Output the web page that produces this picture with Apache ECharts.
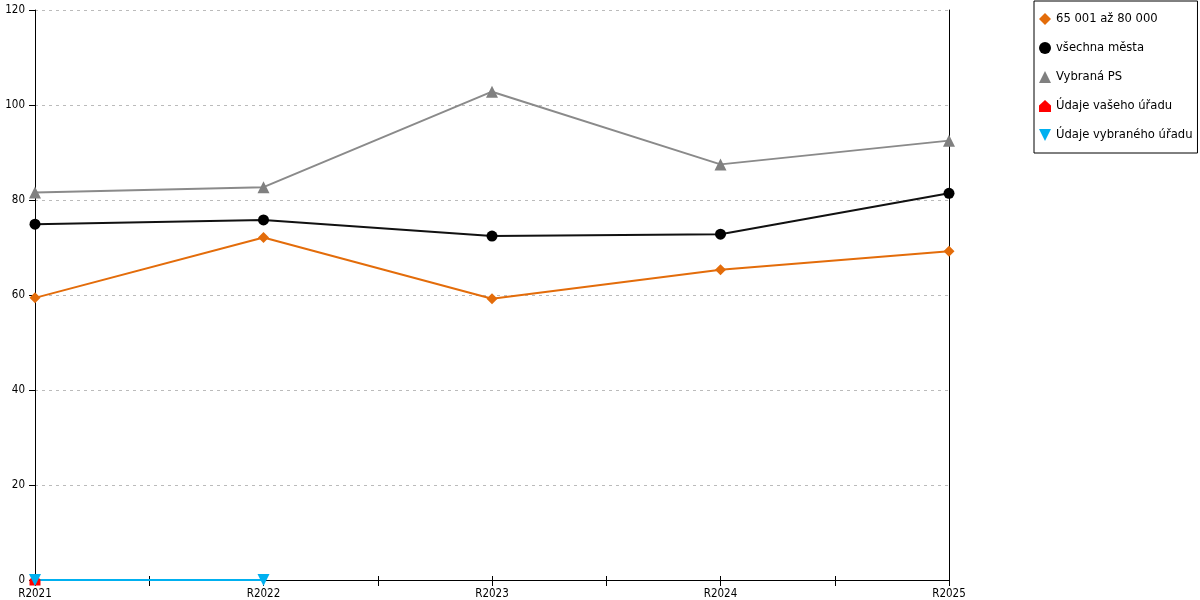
<!DOCTYPE html>
<html>
<head>
<meta charset="utf-8">
<script src="https://cdn.jsdelivr.net/npm/echarts@6/dist/echarts.min.js"></script>
<style>
  html, body { margin: 0; padding: 0; background: #fff; }
  #main { width: 1200px; height: 600px; }
</style>
</head>
<body>
<div id="main"></div>
<script>
var categories = ['R2021', 'R2022', 'R2023', 'R2024', 'R2025'];
var yTicks = [0, 20, 40, 60, 80, 100, 120];

var velikost = [59.4, 72.1, 59.2, 65.3, 69.2];      // 65 001 až 80 000
var vsechna = [74.9, 75.8, 72.4, 72.8, 81.4];        // všechna města
var vybranaPS = [81.6, 82.7, 102.8, 87.5, 92.5];     // Vybraná PS
var vasUrad = [0, null, null, null, null];           // Údaje vašeho úřadu
var vybranyUrad = [0, 0, null, null, null];          // Údaje vybraného úřadu

// pomocna osa jen pro znacky mezi kategoriemi
var halfTicks = [];
for (var i = 0; i < categories.length * 2 - 1; i++) halfTicks.push('');

var house = 'path://M5,0 L10,4.5 L10,10 L0,10 L0,4.5 Z';
var downTri = 'path://M0,0 L10,0 L5,10 Z';
var labelFont = 'DejaVu Sans Condensed';

var myChart = echarts.init(document.getElementById('main'));

var option = {
    animation: false,
    backgroundColor: '#fff',
    grid: {
        left: 35,
        right: 251,
        top: 10,
        bottom: 20
    },
    legend: {
        orient: 'vertical',
        left: 1034,
        top: 1,
        padding: [12, 5, 12, 5],
        itemGap: 17,
        itemWidth: 12,
        itemHeight: 12,
        borderColor: '#000',
        borderWidth: 1,
        backgroundColor: '#fff',
        textStyle: { color: '#000', fontFamily: 'DejaVu Sans', fontSize: 11.6 },
        data: [
            { name: '65 001 až 80 000', icon: 'diamond' },
            { name: 'všechna města', icon: 'circle' },
            { name: 'Vybraná PS', icon: 'triangle' },
            { name: 'Údaje vašeho úřadu', icon: house },
            { name: 'Údaje vybraného úřadu', icon: downTri }
        ]
    },
    xAxis: [
        {
            type: 'category',
            data: categories,
            boundaryGap: false,
            axisLine: { lineStyle: { color: '#000', width: 1 } },
            axisTick: { show: false },
            axisLabel: {
                color: '#000',
                fontFamily: labelFont,
                fontSize: 11.5,
                margin: 8
            },
            splitLine: { show: false }
        },
        {
            type: 'category',
            data: halfTicks,
            boundaryGap: false,
            position: 'bottom',
            axisLine: { show: false },
            axisTick: { show: true, interval: 0, length: 6, lineStyle: { color: '#000' } },
            axisLabel: { show: false },
            splitLine: { show: false }
        },
        {
            type: 'category',
            data: halfTicks,
            boundaryGap: false,
            position: 'bottom',
            axisLine: { show: false },
            axisTick: { show: true, inside: true, interval: 0, length: 4, lineStyle: { color: '#000' } },
            axisLabel: { show: false },
            splitLine: { show: false }
        }
    ],
    yAxis: [
        {
            type: 'value',
            min: yTicks[0],
            max: yTicks[yTicks.length - 1],
            interval: 20,
            axisLine: { show: true, lineStyle: { color: '#000' } },
            axisTick: { show: true, length: 6, lineStyle: { color: '#000' } },
            axisLabel: {
                color: '#000',
                fontFamily: labelFont,
                fontSize: 11.5,
                margin: 10
            },
            splitLine: {
                show: true,
                lineStyle: { color: '#bbb', type: [3, 4], width: 1 }
            }
        },
        {
            type: 'value',
            position: 'right',
            min: yTicks[0],
            max: yTicks[yTicks.length - 1],
            interval: 20,
            axisLine: { show: true, lineStyle: { color: '#000' } },
            axisTick: { show: false },
            axisLabel: { show: false },
            splitLine: { show: false }
        }
    ],
    series: [
        {
            name: '65 001 až 80 000',
            type: 'line',
            data: velikost,
            symbol: 'diamond',
            symbolSize: 11,
            itemStyle: { color: '#e36c0a' },
            lineStyle: { color: '#e36c0a', width: 2 }
        },
        {
            name: 'všechna města',
            type: 'line',
            data: vsechna,
            symbol: 'circle',
            symbolSize: 11,
            itemStyle: { color: '#000' },
            lineStyle: { color: '#111', width: 2 }
        },
        {
            name: 'Vybraná PS',
            type: 'line',
            data: vybranaPS,
            symbol: 'triangle',
            symbolSize: 12,
            itemStyle: { color: '#808080' },
            lineStyle: { color: '#8a8a8a', width: 2 }
        },
        {
            name: 'Údaje vašeho úřadu',
            type: 'line',
            data: vasUrad,
            symbol: house,
            symbolSize: 11,
            itemStyle: { color: '#ff0000' },
            lineStyle: { color: '#ff0000', width: 2 }
        },
        {
            name: 'Údaje vybraného úřadu',
            type: 'line',
            data: vybranyUrad,
            symbol: downTri,
            symbolSize: 12,
            itemStyle: { color: '#00b0f0' },
            lineStyle: { color: '#00b0f0', width: 2 }
        }
    ]
};

myChart.setOption(option);
</script>
</body>
</html>
